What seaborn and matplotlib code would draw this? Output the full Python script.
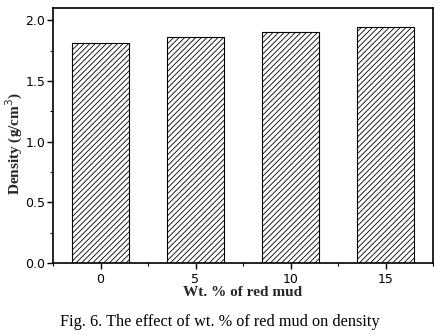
import matplotlib
matplotlib.use("Agg")
import matplotlib.pyplot as plt
import seaborn as sns
import pandas as pd
from matplotlib.ticker import MultipleLocator

red_mud_wt = [0, 5, 10, 15]
density = [1.81, 1.86, 1.90, 1.94]
x_ticks = [0, 5, 10, 15]
y_ticks = [0.0, 0.5, 1.0, 1.5, 2.0]

sns.set_theme(style="ticks")
plt.rcParams["font.family"] = ["DejaVu Sans"]
plt.rcParams["hatch.linewidth"] = 0.6
plt.rcParams["hatch.color"] = "black"

df = pd.DataFrame({"wt": red_mud_wt, "density": density})

fig = plt.figure(figsize=(4.45, 3.35), dpi=100)
ax = fig.add_axes([53/445, 1 - 263/335, (433-53)/445, (263-8)/335])

sns.barplot(data=df, x="wt", y="density", native_scale=True, width=0.6,
            color="white", edgecolor="black", linewidth=0.8, ax=ax, errorbar=None)
for p in ax.patches:
    p.set_hatch("//////")
    p.set_facecolor("white")
    p.set_edgecolor("black")

ax.set_xlim(-2.5, 17.5)
ax.set_ylim(0, 2.1)
ax.set_xticks(x_ticks)
ax.set_xticklabels([str(v) for v in x_ticks])
ax.set_yticks(y_ticks)
ax.set_yticklabels([f"{v:.1f}" for v in y_ticks])
ax.xaxis.set_minor_locator(MultipleLocator(2.5))
ax.yaxis.set_minor_locator(MultipleLocator(0.25))
ax.tick_params(which="major", direction="out", length=4, width=1, labelsize=9, color="black", labelcolor="black")
ax.tick_params(axis="x", which="major", pad=3)
ax.tick_params(axis="y", which="major", pad=1.5)
ax.tick_params(which="minor", direction="out", length=2, width=0.8, color="black")
ax.tick_params(top=False, right=False)
for s in ax.spines.values():
    s.set_visible(True)
    s.set_color("black")
    s.set_linewidth(1.2)

serif = ["Liberation Serif", "DejaVu Serif"]
ax.set_xlabel("Wt. % of red mud", fontfamily=serif, fontweight="bold", fontsize=11)
ax.xaxis.set_label_coords(0.5, -(293 - 263) / 255, transform=ax.transAxes)
ax.set_ylabel("Density (g/cm$^3$)", fontfamily=serif, fontweight="bold", fontsize=11)
ax.yaxis.set_label_coords((14 - 53) / 380, (263 - 143) / 255, transform=ax.transAxes)
ax.yaxis.label.set_va("center")
ax.xaxis.label.set_va("center")

fig.text(60/445, 1 - 322/335, "Fig. 6. The effect of wt. % of red mud on density",
         fontfamily=serif, fontsize=11.7, ha="left", va="center", color="black")

fig.savefig("out.png", dpi=100, facecolor="white")
